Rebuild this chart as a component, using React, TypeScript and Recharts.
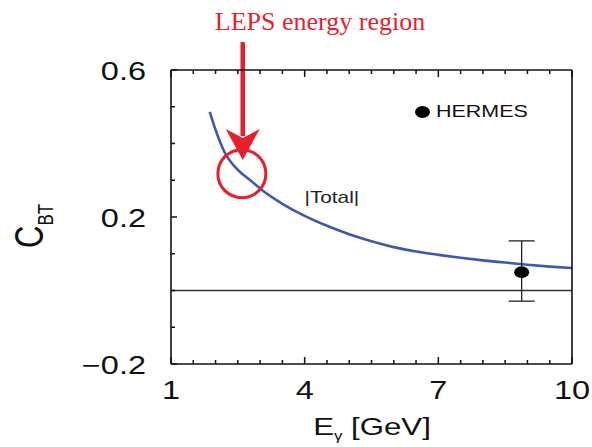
import React from "react";
import {
  ComposedChart,
  Line,
  Scatter,
  ErrorBar,
  XAxis,
  YAxis,
  ReferenceLine,
  ReferenceDot,
  Legend,
} from "recharts";

// photon energy [GeV] and |Total| C_BT curve
const energies = [1.87, 2.0, 2.2, 2.5, 2.8, 3.1, 3.5, 4.0, 4.5, 5.0, 5.5, 6.0, 6.5, 7.0, 7.5, 8.0, 8.5, 9.0, 9.5, 10.0];
const totalCbt = [0.486, 0.437, 0.377, 0.328, 0.298, 0.268, 0.236, 0.203, 0.176, 0.153, 0.134, 0.118, 0.106, 0.097, 0.089, 0.082, 0.076, 0.07, 0.065, 0.061];

// HERMES data point, error given as [down, up]
const hermesE = [8.87];
const hermesCbt = [0.05];
const hermesErr = [[0.079, 0.085]];

const xTicks = [1, 1.5, 2, 2.5, 3, 3.5, 4, 4.5, 5, 5.5, 6, 6.5, 7, 7.5, 8, 8.5, 9, 9.5, 10];
const xMajorTicks = [1, 4, 7, 10];
const yTicks = [-0.2, -0.1, 0, 0.1, 0.2, 0.3, 0.4, 0.5, 0.6];
const yLabelTicks = ["-0.2", "0.2", "0.6"];

const FONT = "'Liberation Sans', Arial, Helvetica, sans-serif";
const RED = "#e81f2b";
const AXIS = "#111";
const STRETCH = 1.3;

const curveData = energies.map((e, i) => ({ e, total: totalCbt[i] }));
const hermesData = hermesE.map((e, i) => ({ e, cbt: hermesCbt[i], err: hermesErr[i] }));

const isMajorX = (v: number) => xMajorTicks.includes(v);
const yName = (v: number) => (Math.round(v * 10) / 10).toFixed(1);

const BottomTick = ({ x, y, payload }: any) => {
  const major = isMajorX(payload.value);
  return (
    <g>
      <line x1={x} x2={x} y1={y} y2={y - (major ? 7 : 4)} stroke={AXIS} strokeWidth={1.5} />
      {major && (
        <text
          transform={`translate(${x},${y + 35}) scale(${STRETCH},1)`}
          textAnchor='middle'
          fontSize={25}
          fontFamily={FONT}
          fill='#111'
        >
          {payload.value}
        </text>
      )}
    </g>
  );
};

const TopTick = ({ x, y, payload }: any) => {
  const major = isMajorX(payload.value);
  return <line x1={x} x2={x} y1={y} y2={y + (major ? 7 : 4)} stroke={AXIS} strokeWidth={1.5} />;
};

const LeftTick = ({ x, y, payload }: any) => {
  const label = yName(payload.value);
  const major = yLabelTicks.includes(label);
  return (
    <g>
      <line x1={x} x2={x + (major ? 6 : 4)} y1={y} y2={y} stroke={AXIS} strokeWidth={1.5} />
      {major && (
        <text
          transform={`translate(${x - 25},${y + 10}) scale(${STRETCH},1)`}
          textAnchor='end'
          fontSize={25}
          fontFamily={FONT}
          fill='#111'
        >
          {label.replace("-", "\u2212")}
        </text>
      )}
    </g>
  );
};

const RightTick = ({ x, y, payload }: any) => {
  const major = yLabelTicks.includes(yName(payload.value));
  return <line x1={x} x2={x - (major ? 6 : 4)} y1={y} y2={y} stroke={AXIS} strokeWidth={1.5} />;
};

// red arrow pointing down at the LEPS energy region
const Arrow = ({ x1, y1, x2, y2 }: any) => (
  <g>
    <line x1={x1} y1={y1} x2={x2} y2={y2 - 24} stroke={RED} strokeWidth={4.5} />
    <polygon
      points={`${x2 - 17},${y2 - 31} ${x2},${y2 - 22} ${x2 + 17},${y2 - 31} ${x2},${y2}`}
      fill={RED}
    />
  </g>
);

const TotalLabel = ({ cx, cy }: any) => (
  <text
    transform={`translate(${cx},${cy + 6}) scale(${STRETCH},1)`}
    textAnchor='middle'
    fontSize={16}
    fontFamily={FONT}
    fill='#222'
  >
    |Total|
  </text>
);

const HermesDot = ({ cx, cy }: any) => <ellipse cx={cx} cy={cy} rx={7.5} ry={6} fill='#000' />;

const HermesLegend = () => (
  <div style={{ display: "flex", alignItems: "center", fontFamily: FONT }}>
    <span style={{ width: 15, height: 12, borderRadius: "50%", background: "#000", display: "inline-block" }} />
    <span
      style={{
        marginLeft: 6,
        fontSize: 16.5,
        color: "#111",
        display: "inline-block",
        transform: `scaleX(${STRETCH})`,
        transformOrigin: "left center",
      }}
    >
      HERMES
    </span>
  </div>
);

export default function App() {
  return (
    <div style={{ position: "absolute", left: 0, top: 0, width: 592, height: 447, background: "#fff" }}>
      {/* annotation title */}
      <div
        style={{
          position: "absolute",
          left: 0,
          width: 640,
          top: 9,
          textAlign: "center",
          fontFamily: "'Liberation Serif', 'Times New Roman', serif",
          fontSize: 26,
          lineHeight: "26px",
          color: RED,
        }}
      >
        LEPS energy region
      </div>

      <ComposedChart
        width={592}
        height={447}
        data={curveData}
        margin={{ top: 69, right: 19, bottom: 53, left: 111 }}
      >
        <XAxis
          xAxisId='bottom'
          dataKey='e'
          type='number'
          domain={[1, 10]}
          ticks={xTicks}
          interval={0}
          height={30}
          tickSize={0}
          tickMargin={0}
          tickLine={false}
          tick={<BottomTick />}
          axisLine={{ stroke: AXIS, strokeWidth: 1.6 }}
        />
        <XAxis
          xAxisId='top'
          orientation='top'
          dataKey='e'
          type='number'
          domain={[1, 10]}
          ticks={xTicks}
          interval={0}
          height={1}
          tickSize={0}
          tickMargin={0}
          tickLine={false}
          tick={<TopTick />}
          axisLine={{ stroke: AXIS, strokeWidth: 1.6 }}
        />
        <YAxis
          yAxisId='left'
          type='number'
          domain={[-0.2, 0.6]}
          ticks={yTicks}
          interval={0}
          width={60}
          tickSize={0}
          tickMargin={0}
          tickLine={false}
          tick={<LeftTick />}
          axisLine={{ stroke: AXIS, strokeWidth: 1.6 }}
        />
        <YAxis
          yAxisId='right'
          orientation='right'
          type='number'
          domain={[-0.2, 0.6]}
          ticks={yTicks}
          interval={0}
          width={1}
          tickSize={0}
          tickMargin={0}
          tickLine={false}
          tick={<RightTick />}
          axisLine={{ stroke: AXIS, strokeWidth: 1.6 }}
        />

        <ReferenceLine xAxisId='bottom' yAxisId='left' y={0} stroke='#333' strokeWidth={1.3} />

        <Line
          xAxisId='bottom'
          yAxisId='left'
          dataKey='total'
          type='monotone'
          stroke='#3d58b3'
          strokeWidth={2.6}
          dot={false}
          legendType='none'
          isAnimationActive={false}
        />

        <Scatter
          name='HERMES'
          xAxisId='bottom'
          yAxisId='left'
          data={hermesData}
          dataKey='cbt'
          shape={<HermesDot />}
          isAnimationActive={false}
        >
          <ErrorBar dataKey='err' direction='y' width={13} stroke='#222' strokeWidth={1.3} isAnimationActive={false} />
        </Scatter>

        <ReferenceDot
          xAxisId='bottom'
          yAxisId='left'
          x={4.61}
          y={0.254}
          r={0}
          ifOverflow='visible'
          shape={<TotalLabel />}
        />

        <ReferenceDot
          xAxisId='bottom'
          yAxisId='left'
          x={2.59}
          y={0.318}
          r={24}
          fill='none'
          stroke={RED}
          strokeWidth={3}
          ifOverflow='visible'
        />
        <ReferenceLine
          xAxisId='bottom'
          yAxisId='left'
          segment={[
            { x: 2.61, y: 0.676 },
            { x: 2.61, y: 0.355 },
          ]}
          ifOverflow='visible'
          shape={<Arrow />}
        />

        <Legend
          align='center'
          verticalAlign='middle'
          content={<HermesLegend />}
          wrapperStyle={{ position: "absolute", top: 102, left: 415, width: "auto", height: "auto" }}
        />

        {/* axis titles */}
        <text
          transform={`translate(372,435) scale(${STRETCH},1)`}
          textAnchor='middle'
          fontSize={24}
          fontFamily={FONT}
          fill='#111'
        >
          E
          <tspan fontSize={13} dy={5}>γ</tspan>
          <tspan dy={-5}> [GeV]</tspan>
        </text>
        <text
          transform={`translate(43,248) scale(${STRETCH},1) rotate(-90)`}
          fontSize={31}
          fontFamily={FONT}
          fill='#111'
        >
          C
          <tspan fontSize={17} dy={7.5}>BT</tspan>
        </text>
      </ComposedChart>
    </div>
  );
}
